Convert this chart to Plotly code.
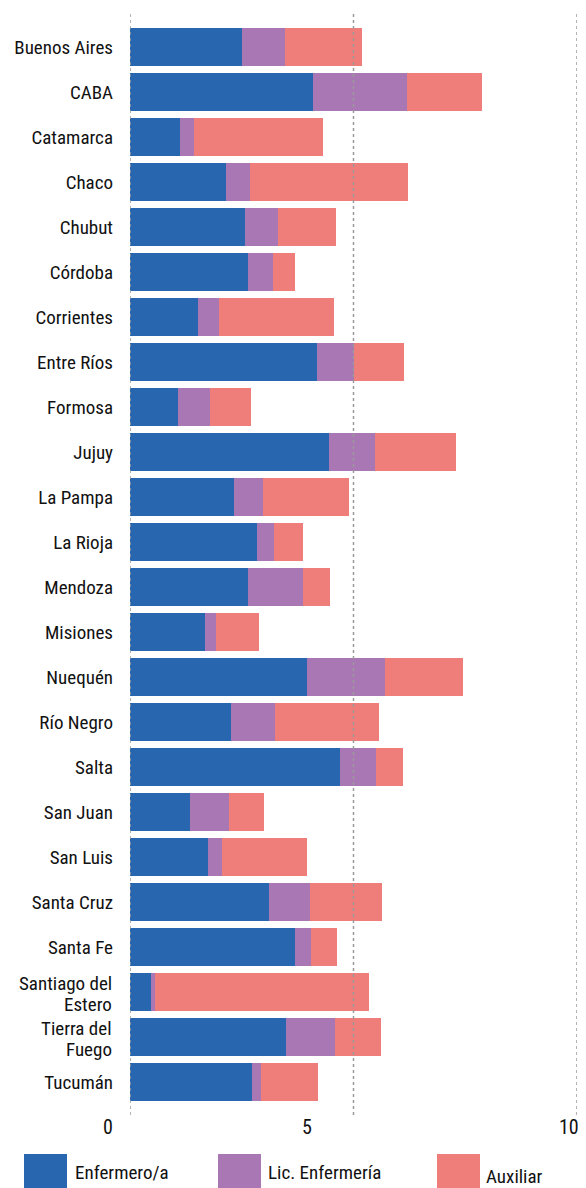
import plotly.graph_objects as go

provinces = ["Buenos Aires", "CABA", "Catamarca", "Chaco", "Chubut", "Córdoba",
             "Corrientes", "Entre Ríos", "Formosa", "Jujuy", "La Pampa", "La Rioja",
             "Mendoza", "Misiones", "Nuequén", "Río Negro", "Salta", "San Juan",
             "San Luis", "Santa Cruz", "Santa Fe", "Santiago del Estero",
             "Tierra del Fuego", "Tucumán"]
# provinces whose label is written on two lines
two_line_labels = {"Santiago del Estero": ["Santiago del", "Estero"],
                   "Tierra del Fuego": ["Tierra del", "Fuego"]}

enfermero = [2.51, 4.10, 1.12, 2.15, 2.58, 2.65, 1.52, 4.19, 1.08, 4.46, 2.33, 2.83,
             2.65, 1.68, 3.97, 2.26, 4.69, 1.35, 1.75, 3.12, 3.68, 0.47, 3.48, 2.74]
lic_enfermeria = [0.96, 2.09, 0.31, 0.54, 0.74, 0.56, 0.47, 0.81, 0.72, 1.03, 0.65, 0.40,
                  1.21, 0.25, 1.73, 0.99, 0.81, 0.87, 0.31, 0.90, 0.36, 0.09, 1.10, 0.20]
auxiliar = [1.73, 1.68, 2.89, 3.54, 1.28, 0.47, 2.58, 1.12, 0.90, 1.80, 1.93, 0.65,
            0.61, 0.96, 1.75, 2.31, 0.60, 0.78, 1.91, 1.61, 0.60, 4.78, 1.03, 1.26]

series_names = ["Enfermero/a", "Lic. Enfermería", "Auxiliar"]
series_colors = ["#2966b0", "#a977b4", "#ef7d7a"]
x_ticks = [0, 5, 10]
x_tick_labels = ["0", "5", "10"]

# page body has an 8px margin: figure pixel = screen pixel - 8
OFF = 8
WIN_W, WIN_H = 586, 1188
W, H = WIN_W - OFF, WIN_H - OFF
PLOT_L, PLOT_R, PLOT_T, PLOT_B = 130, 577, 12, 1115   # screen pixels
ML, MT = PLOT_L - OFF, PLOT_T - OFF
MR, MB = W - (PLOT_R - OFF), H - (PLOT_B - OFF)
PW, PH = PLOT_R - PLOT_L, PLOT_B - PLOT_T

def px(X):
    return (X - PLOT_L) / PW

def py(Y):
    return (PLOT_B - Y) / PH

FONT = "Liberation Sans Narrow, Roboto Condensed, Roboto, sans-serif"
TXT = "#111111"

fig = go.Figure()
for name, vals, col in zip(series_names, [enfermero, lic_enfermeria, auxiliar], series_colors):
    fig.add_trace(go.Bar(
        y=provinces, x=vals, name=name, orientation="h",
        marker=dict(color=col, line=dict(width=0)),
        showlegend=False,
    ))

shapes = []
for t in x_ticks:
    shapes.append(dict(type="line", xref="x", yref="paper", x0=t, x1=t, y0=0, y1=1,
                       line=dict(color="#9a9a9a", width=1.5, dash="dot"), layer="above"))

annotations = []
tick_px = [108, 307, 569]
for X, lab in zip(tick_px, x_tick_labels):
    annotations.append(dict(text=lab, xref="paper", yref="paper", x=px(X), y=py(1127),
                            xanchor="center", yanchor="middle", showarrow=False,
                            font=dict(family=FONT, size=20, color=TXT)))

# two-line category labels with tight line spacing
for cat, lines in two_line_labels.items():
    for line, shift in zip(lines, [9, -12]):
        annotations.append(dict(text=line, xref="paper", yref="y", x=px(114), y=cat,
                                yshift=shift, xanchor="right", yanchor="middle",
                                showarrow=False, font=dict(family=FONT, size=19, color=TXT)))

# manual legend
box_x = [24, 218, 437]
text_x = [73, 266, 484]
text_y = [1172, 1172, 1176]
for bx, tx, ty, name, col in zip(box_x, text_x, text_y, series_names, series_colors):
    shapes.append(dict(type="rect", xref="paper", yref="paper",
                       x0=px(bx), x1=px(bx + 43), y0=py(1154), y1=py(1196),
                       fillcolor=col, line=dict(width=0), layer="above"))
    annotations.append(dict(text=name, xref="paper", yref="paper", x=px(tx), y=py(ty),
                            xanchor="left", yanchor="middle", showarrow=False,
                            font=dict(family=FONT, size=19, color=TXT)))

tick_text = ["" if p in two_line_labels else p for p in provinces]

fig.update_layout(
    width=W, height=H,
    margin=dict(l=ML, r=MR, t=MT, b=MB),
    barmode="stack", bargap=0.156,
    plot_bgcolor="white", paper_bgcolor="white",
    font=dict(family=FONT, size=19, color=TXT),
    xaxis=dict(range=[0, 10], showgrid=False, zeroline=False, showticklabels=False,
               showline=False, ticks="", fixedrange=True),
    yaxis=dict(type="category", categoryorder="array", categoryarray=provinces,
               tickmode="array", tickvals=provinces, ticktext=tick_text,
               range=[len(provinces) - 1 + 0.733, -0.778], showgrid=False, zeroline=False,
               showline=False, ticks="", ticklabelstandoff=16,
               tickfont=dict(family=FONT, size=19, color=TXT)),
    shapes=shapes,
    annotations=annotations,
)

fig.write_html("out.html")
